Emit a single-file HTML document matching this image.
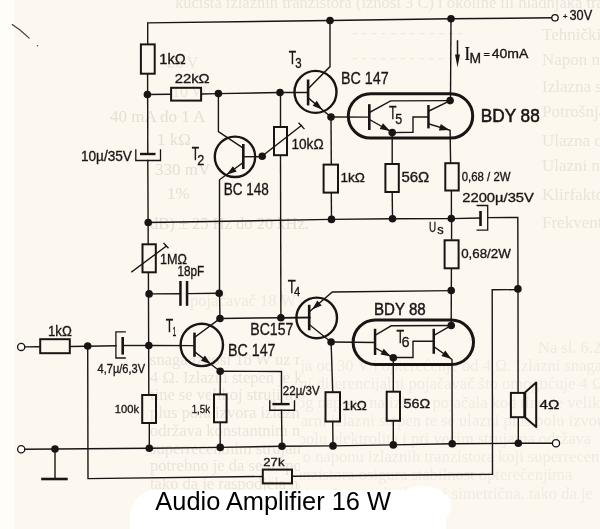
<!DOCTYPE html>
<html><head><meta charset="utf-8"><style>
html,body{margin:0;padding:0;background:#fcf8f0;}
svg{display:block;}
text{opacity:0.999;}svg{will-change:transform;}
</style></head><body>
<svg width="600" height="529" viewBox="0 0 600 529">
<rect width="600" height="529" fill="#fcf8f0"/>
<rect width="14" height="529" fill="#fffdf7"/>
<text x="175" y="8" font-family="Liberation Serif" font-size="16.5" fill="#ebe4d9">kućišta izlaznih tranzistora (iznosi 3 C) i okoline ili hladnjaka tranzistora</text>
<text x="542" y="40" font-family="Liberation Serif" font-size="17" fill="#ebe4d9">Tehnički podaci</text>
<text x="542" y="65" font-family="Liberation Serif" font-size="17" fill="#ebe4d9">Napon napajanja</text>
<text x="542" y="92" font-family="Liberation Serif" font-size="17" fill="#ebe4d9">Izlazna snaga</text>
<text x="542" y="117" font-family="Liberation Serif" font-size="17" fill="#ebe4d9">Potrošnja struje</text>
<text x="542" y="146" font-family="Liberation Serif" font-size="17" fill="#ebe4d9">Ulazna otpornost</text>
<text x="542" y="171" font-family="Liberation Serif" font-size="17" fill="#ebe4d9">Ulazni napon</text>
<text x="542" y="200" font-family="Liberation Serif" font-size="17" fill="#ebe4d9">Klirfaktor (P = 16 W)</text>
<text x="542" y="228" font-family="Liberation Serif" font-size="17" fill="#ebe4d9">Frekventna karakteristika</text>
<text x="352" y="38" font-family="Liberation Serif" font-size="16.5" fill="#efe9df">- - - - - - - - - - - -</text>
<text x="352" y="63" font-family="Liberation Serif" font-size="16.5" fill="#efe9df">- - - - - - - - - - - -</text>
<text x="110" y="122" font-family="Liberation Serif" font-size="17" fill="#e6dfd3">40 mA do 1 A</text>
<text x="167" y="68" font-family="Liberation Serif" font-size="16" fill="#ece6db">26 V</text>
<text x="172" y="97" font-family="Liberation Serif" font-size="16" fill="#ece6db">10 W</text>
<text x="157" y="145" font-family="Liberation Serif" font-size="17" fill="#e6dfd3">1 kΩ</text>
<text x="155" y="175" font-family="Liberation Serif" font-size="17" fill="#e6dfd3">330 mV</text>
<text x="167" y="199" font-family="Liberation Serif" font-size="17" fill="#e6dfd3">1%</text>
<text x="150" y="229" font-family="Liberation Serif" font-size="16.5" fill="#e6dfd3">dB) ± 25 Hz do 20 kHz.</text>
<defs><clipPath id="cl"><rect x="0" y="330" width="300" height="200"/></clipPath><clipPath id="cr"><rect x="300" y="330" width="300" height="200"/></clipPath></defs>
<g clip-path="url(#cl)">
<text x="150" y="365.0" font-family="Liberation Serif" font-size="16.5" fill="#ebe4d9">snaga iznosi 18 W uz napon napajanja od 30 V i opterećenje od 4 Ω. Izlazni snaga iznosi</text>
<text x="150" y="382.7" font-family="Liberation Serif" font-size="16.5" fill="#ebe4d9">4 Ω. Izlazni stepen je komplementarni diferencijalni pojačavač što omogućuje 4 Ω. Izlazni</text>
<text x="150" y="400.4" font-family="Liberation Serif" font-size="16.5" fill="#ebe4d9">tine se velikoj struji mirovanja stalnog napona na izlazu pojačala kod tine se velikoj</text>
<text x="150" y="418.1" font-family="Liberation Serif" font-size="16.5" fill="#ebe4d9">plus polu izvora izlazni komplementarni izlazni stepen te se ulazni plus polu izvora</text>
<text x="150" y="435.8" font-family="Liberation Serif" font-size="16.5" fill="#ebe4d9">održava konstantnim napon na plus polu elektrolita i pri većim strujama održava</text>
<text x="150" y="453.5" font-family="Liberation Serif" font-size="16.5" fill="#ebe4d9">superrecentnim strujama u ovisnosti o naponu izlaznih tranzistora koji superrecentnim</text>
<text x="150" y="471.2" font-family="Liberation Serif" font-size="16.5" fill="#ebe4d9">potrebno je da se u spoju izlaznih tranzistora osigura stabilnost opterećenjima</text>
<text x="150" y="488.9" font-family="Liberation Serif" font-size="16.5" fill="#ebe4d9">tako da je raspodjela napona na tranzistorima podjednaka i simetrična. tako da je</text>
<text x="150" y="506.6" font-family="Liberation Serif" font-size="16.5" fill="#ebe4d9">se to podjednako na oba tranzistora.</text>
</g><g clip-path="url(#cr)">
<text x="60" y="353.0" font-family="Liberation Serif" font-size="16.5" fill="#f1ebe2"></text>
<text x="60" y="371.2" font-family="Liberation Serif" font-size="16.5" fill="#f1ebe2">snaga iznosi 18 W uz napon napajanja od 30 V i opterećenje od 4 Ω. Izlazni snaga iznosi</text>
<text x="60" y="389.4" font-family="Liberation Serif" font-size="16.5" fill="#f1ebe2">4 Ω. Izlazni stepen je komplementarni diferencijalni pojačavač što omogućuje 4 Ω. Izlazni</text>
<text x="60" y="407.6" font-family="Liberation Serif" font-size="16.5" fill="#f1ebe2">tine se velikoj struji mirovanja stalnog napona na izlazu pojačala kod tine se velikoj</text>
<text x="60" y="425.8" font-family="Liberation Serif" font-size="16.5" fill="#f1ebe2">plus polu izvora izlazni komplementarni izlazni stepen te se ulazni plus polu izvora</text>
<text x="60" y="444.0" font-family="Liberation Serif" font-size="16.5" fill="#f1ebe2">održava konstantnim napon na plus polu elektrolita i pri većim strujama održava</text>
<text x="60" y="462.2" font-family="Liberation Serif" font-size="16.5" fill="#f1ebe2">superrecentnim strujama u ovisnosti o naponu izlaznih tranzistora koji superrecentnim</text>
<text x="60" y="480.4" font-family="Liberation Serif" font-size="16.5" fill="#f1ebe2">potrebno je da se u spoju izlaznih tranzistora osigura stabilnost opterećenjima</text>
<text x="60" y="498.6" font-family="Liberation Serif" font-size="16.5" fill="#f1ebe2">tako da je raspodjela napona na tranzistorima podjednaka i simetrična. tako da je</text>
<text x="60" y="516.8" font-family="Liberation Serif" font-size="16.5" fill="#f1ebe2">se to podjednako na oba tranzistora.</text>
</g>
<text x="538" y="353" font-family="Liberation Serif" font-size="16.5" fill="#f0eae0">Na sl. 6.2 prikazano je</text>
<text x="190" y="306" font-family="Liberation Serif" font-size="16.5" fill="#efe9df">pojačavač 18 W</text>
<path d="M12.2,24.5 L20,30 L29.2,38.1" fill="none" stroke="#4a3038" stroke-width="1.1" stroke-linecap="round"/>
<circle cx="37.6" cy="45.7" r="0.7" fill="#4a3a3a"/>
<polyline points="147.7,44.0 147.7,22.9 330.0,20.5 451.0,18.8 551.8,17.8" fill="none" stroke="#1c1414" stroke-width="1.4" stroke-linejoin="miter" stroke-linecap="square"/>
<circle cx="555.0" cy="17.8" r="3.2" fill="#fff" stroke="#1c1414" stroke-width="1.3"/>
<circle cx="330.0" cy="20.5" r="3.8" fill="#1c1414"/>
<circle cx="451.0" cy="18.8" r="3.8" fill="#1c1414"/>
<polyline points="147.6,74.0 147.8,154.0" fill="none" stroke="#1c1414" stroke-width="1.4" stroke-linejoin="miter" stroke-linecap="square"/>
<polyline points="147.8,160.5 148.2,243.4" fill="none" stroke="#1c1414" stroke-width="1.4" stroke-linejoin="miter" stroke-linecap="square"/>
<polyline points="148.4,273.0 148.8,394.4" fill="none" stroke="#1c1414" stroke-width="1.4" stroke-linejoin="miter" stroke-linecap="square"/>
<polyline points="149.3,424.0 149.3,448.3" fill="none" stroke="#1c1414" stroke-width="1.4" stroke-linejoin="miter" stroke-linecap="square"/>
<rect x="140.9" y="44.4" width="13.8" height="29.3" fill="none" stroke="#1c1414" stroke-width="2.0"/>
<rect x="142.5" y="244.3" width="13.3" height="28.0" fill="none" stroke="#1c1414" stroke-width="2.0"/>
<rect x="142.2" y="395.0" width="13.8" height="28.0" fill="none" stroke="#1c1414" stroke-width="2.0"/>
<rect x="140.0" y="152.8" width="15.5" height="2.4" fill="#1c1414"/>
<polyline points="135.8,150.0 135.8,160.5 160.5,160.5 160.5,150.0" fill="none" stroke="#1c1414" stroke-width="1.3" stroke-linejoin="miter" stroke-linecap="square"/>
<polyline points="131.8,271.8 166.2,246.2" fill="none" stroke="#1c1414" stroke-width="1.4" stroke-linejoin="miter" stroke-linecap="square"/>
<polyline points="164.0,243.6 168.0,247.8" fill="none" stroke="#1c1414" stroke-width="1.4" stroke-linejoin="miter" stroke-linecap="square"/>
<circle cx="147.4" cy="94.5" r="3.8" fill="#1c1414"/>
<circle cx="148.2" cy="222.5" r="3.8" fill="#1c1414"/>
<circle cx="149.1" cy="293.9" r="3.8" fill="#1c1414"/>
<circle cx="148.8" cy="345.5" r="3.8" fill="#1c1414"/>
<circle cx="149.3" cy="448.3" r="3.8" fill="#1c1414"/>
<polyline points="147.4,94.5 170.0,94.3" fill="none" stroke="#1c1414" stroke-width="1.4" stroke-linejoin="miter" stroke-linecap="square"/>
<rect x="171.1" y="87.8" width="30.0" height="12.8" fill="none" stroke="#1c1414" stroke-width="2.0"/>
<polyline points="202.1,94.0 218.4,93.6 280.0,92.5 308.0,92.5" fill="none" stroke="#1c1414" stroke-width="1.4" stroke-linejoin="miter" stroke-linecap="square"/>
<circle cx="218.4" cy="93.6" r="3.8" fill="#1c1414"/>
<circle cx="280.0" cy="92.5" r="3.8" fill="#1c1414"/>
<circle cx="235.0" cy="156.8" r="20.2" fill="none" stroke="#1c1414" stroke-width="2.4"/>
<rect x="242.0" y="144.0" width="2.6" height="25.0" fill="#1c1414"/>
<polyline points="218.4,93.6 218.4,131.7 243.0,148.0" fill="none" stroke="#1c1414" stroke-width="1.4" stroke-linejoin="miter" stroke-linecap="square"/>
<polyline points="243.3,156.7 262.2,156.7" fill="none" stroke="#1c1414" stroke-width="1.4" stroke-linejoin="miter" stroke-linecap="square"/>
<circle cx="262.2" cy="156.3" r="3.8" fill="#1c1414"/>
<polyline points="243.3,162.5 219.5,179.8 219.5,293.3 220.0,318.5" fill="none" stroke="#1c1414" stroke-width="1.4" stroke-linejoin="miter" stroke-linecap="square"/>
<polygon points="226.6,174.7 232.9,166.2 236.7,171.6" fill="#1c1414"/>
<circle cx="219.2" cy="293.3" r="3.8" fill="#1c1414"/>
<circle cx="220.0" cy="318.5" r="3.8" fill="#1c1414"/>
<polyline points="280.5,92.5 280.5,126.0" fill="none" stroke="#1c1414" stroke-width="1.4" stroke-linejoin="miter" stroke-linecap="square"/>
<rect x="274.0" y="127.0" width="13.0" height="28.2" fill="none" stroke="#1c1414" stroke-width="2.0"/>
<polyline points="280.5,156.2 280.9,317.7" fill="none" stroke="#1c1414" stroke-width="1.4" stroke-linejoin="miter" stroke-linecap="square"/>
<polyline points="262.2,156.0 301.5,125.5" fill="none" stroke="#1c1414" stroke-width="1.4" stroke-linejoin="miter" stroke-linecap="square"/>
<polyline points="299.0,123.3 304.0,128.6" fill="none" stroke="#1c1414" stroke-width="1.4" stroke-linejoin="miter" stroke-linecap="square"/>
<circle cx="315.5" cy="91.9" r="21.0" fill="none" stroke="#1c1414" stroke-width="2.4"/>
<rect x="306.8" y="79.5" width="2.6" height="25.9" fill="#1c1414"/>
<polyline points="309.4,87.5 330.0,66.6 330.0,20.5" fill="none" stroke="#1c1414" stroke-width="1.4" stroke-linejoin="miter" stroke-linecap="square"/>
<polyline points="309.4,98.8 331.0,117.0" fill="none" stroke="#1c1414" stroke-width="1.4" stroke-linejoin="miter" stroke-linecap="square"/>
<polygon points="322.4,109.7 312.6,105.8 316.8,100.8" fill="#1c1414"/>
<circle cx="331.0" cy="117.0" r="3.8" fill="#1c1414"/>
<polyline points="331.0,117.0 369.0,117.1" fill="none" stroke="#1c1414" stroke-width="1.4" stroke-linejoin="miter" stroke-linecap="square"/>
<polyline points="331.0,117.0 331.3,163.6" fill="none" stroke="#1c1414" stroke-width="1.4" stroke-linejoin="miter" stroke-linecap="square"/>
<rect x="323.6" y="164.6" width="14.4" height="28.0" fill="none" stroke="#1c1414" stroke-width="2.0"/>
<polyline points="331.3,193.6 331.5,219.4" fill="none" stroke="#1c1414" stroke-width="1.4" stroke-linejoin="miter" stroke-linecap="square"/>
<polyline points="148.2,222.5 331.5,219.4 392.5,218.8 451.3,218.6 480.5,218.0" fill="none" stroke="#1c1414" stroke-width="1.4" stroke-linejoin="miter" stroke-linecap="square"/>
<circle cx="331.5" cy="219.4" r="3.8" fill="#1c1414"/>
<circle cx="392.5" cy="218.8" r="3.8" fill="#1c1414"/>
<circle cx="451.3" cy="218.6" r="3.8" fill="#1c1414"/>
<rect x="348.3" y="93.7" width="124.4" height="44.4" rx="22.2" ry="22.2" fill="none" stroke="#1c1414" stroke-width="3.0"/>
<rect x="368.0" y="104.2" width="2.6" height="25.8" fill="#1c1414"/>
<polyline points="370.0,112.2 390.6,100.9 450.1,100.6" fill="none" stroke="#1c1414" stroke-width="1.4" stroke-linejoin="miter" stroke-linecap="square"/>
<polyline points="370.0,119.8 392.3,132.4" fill="none" stroke="#1c1414" stroke-width="1.4" stroke-linejoin="miter" stroke-linecap="square"/>
<polygon points="390.1,131.1 379.7,129.1 383.0,123.3" fill="#1c1414"/>
<circle cx="392.2" cy="132.6" r="3.8" fill="#1c1414"/>
<polyline points="392.2,132.6 413.0,132.3 413.0,117.0 428.4,117.0" fill="none" stroke="#1c1414" stroke-width="1.4" stroke-linejoin="miter" stroke-linecap="square"/>
<rect x="427.2" y="105.0" width="2.5" height="23.4" fill="#1c1414"/>
<polyline points="429.0,111.0 450.1,100.6" fill="none" stroke="#1c1414" stroke-width="1.4" stroke-linejoin="miter" stroke-linecap="square"/>
<circle cx="450.1" cy="100.6" r="3.8" fill="#1c1414"/>
<polyline points="451.0,18.8 450.5,100.6" fill="none" stroke="#1c1414" stroke-width="1.4" stroke-linejoin="miter" stroke-linecap="square"/>
<polyline points="429.0,124.0 450.1,130.3 450.6,162.6" fill="none" stroke="#1c1414" stroke-width="1.4" stroke-linejoin="miter" stroke-linecap="square"/>
<polygon points="449.5,130.1 438.9,130.4 440.8,124.1" fill="#1c1414"/>
<rect x="385.4" y="164.0" width="13.4" height="28.0" fill="none" stroke="#1c1414" stroke-width="2.0"/>
<polyline points="392.2,132.6 392.2,163.4" fill="none" stroke="#1c1414" stroke-width="1.4" stroke-linejoin="miter" stroke-linecap="square"/>
<polyline points="392.2,192.5 392.5,218.7" fill="none" stroke="#1c1414" stroke-width="1.4" stroke-linejoin="miter" stroke-linecap="square"/>
<rect x="445.3" y="163.2" width="13.4" height="27.3" fill="none" stroke="#1c1414" stroke-width="2.0"/>
<polyline points="451.4,191.7 451.4,218.0" fill="none" stroke="#1c1414" stroke-width="1.4" stroke-linejoin="miter" stroke-linecap="square"/>
<rect x="479.2" y="211.0" width="2.6" height="15.0" fill="#1c1414"/>
<polyline points="477.2,205.5 487.7,205.5 487.7,230.2 477.2,230.2" fill="none" stroke="#1c1414" stroke-width="1.3" stroke-linejoin="miter" stroke-linecap="square"/>
<polyline points="487.7,217.6 517.8,217.4 518.0,289.0 518.1,392.5" fill="none" stroke="#1c1414" stroke-width="1.4" stroke-linejoin="miter" stroke-linecap="square"/>
<circle cx="517.9" cy="288.9" r="3.8" fill="#1c1414"/>
<polyline points="517.9,289.6 492.2,289.8 492.5,474.3 293.0,476.3" fill="none" stroke="#1c1414" stroke-width="1.4" stroke-linejoin="miter" stroke-linecap="square"/>
<polyline points="451.6,218.2 451.6,238.9" fill="none" stroke="#1c1414" stroke-width="1.4" stroke-linejoin="miter" stroke-linecap="square"/>
<rect x="444.6" y="240.3" width="14.0" height="28.0" fill="none" stroke="#1c1414" stroke-width="2.0"/>
<polyline points="451.4,269.1 451.2,325.5" fill="none" stroke="#1c1414" stroke-width="1.4" stroke-linejoin="miter" stroke-linecap="square"/>
<circle cx="451.2" cy="290.6" r="3.8" fill="#1c1414"/>
<polyline points="451.2,290.6 332.3,292.0 310.2,311.0" fill="none" stroke="#1c1414" stroke-width="1.4" stroke-linejoin="miter" stroke-linecap="square"/>
<polygon points="312.0,309.5 317.4,300.5 321.7,305.5" fill="#1c1414"/>
<circle cx="316.7" cy="317.9" r="20.3" fill="none" stroke="#1c1414" stroke-width="2.4"/>
<rect x="307.9" y="304.8" width="2.6" height="25.5" fill="#1c1414"/>
<polyline points="280.9,317.7 309.0,317.5" fill="none" stroke="#1c1414" stroke-width="1.4" stroke-linejoin="miter" stroke-linecap="square"/>
<circle cx="280.9" cy="317.7" r="3.8" fill="#1c1414"/>
<polyline points="309.5,324.7 331.1,342.0" fill="none" stroke="#1c1414" stroke-width="1.4" stroke-linejoin="miter" stroke-linecap="square"/>
<circle cx="331.1" cy="342.0" r="3.8" fill="#1c1414"/>
<polyline points="331.1,342.0 375.0,342.5" fill="none" stroke="#1c1414" stroke-width="1.4" stroke-linejoin="miter" stroke-linecap="square"/>
<polyline points="331.1,342.0 332.7,391.2" fill="none" stroke="#1c1414" stroke-width="1.4" stroke-linejoin="miter" stroke-linecap="square"/>
<rect x="325.5" y="392.2" width="14.5" height="29.3" fill="none" stroke="#1c1414" stroke-width="2.0"/>
<polyline points="332.7,422.5 333.0,445.9" fill="none" stroke="#1c1414" stroke-width="1.4" stroke-linejoin="miter" stroke-linecap="square"/>
<rect x="353.1" y="320.1" width="120.4" height="44.4" rx="22.2" ry="22.2" fill="none" stroke="#1c1414" stroke-width="3.0"/>
<rect x="373.8" y="328.8" width="2.5" height="26.2" fill="#1c1414"/>
<polyline points="375.5,335.0 391.2,325.8 451.2,325.5" fill="none" stroke="#1c1414" stroke-width="1.4" stroke-linejoin="miter" stroke-linecap="square"/>
<polyline points="375.5,348.0 393.0,357.5" fill="none" stroke="#1c1414" stroke-width="1.4" stroke-linejoin="miter" stroke-linecap="square"/>
<polygon points="390.9,356.4 380.5,354.5 383.7,348.7" fill="#1c1414"/>
<circle cx="393.3" cy="357.7" r="3.8" fill="#1c1414"/>
<polyline points="393.0,357.5 413.0,357.5 413.0,341.2 433.8,341.2" fill="none" stroke="#1c1414" stroke-width="1.4" stroke-linejoin="miter" stroke-linecap="square"/>
<rect x="432.5" y="328.8" width="2.5" height="25.0" fill="#1c1414"/>
<polyline points="434.5,335.0 451.2,325.5" fill="none" stroke="#1c1414" stroke-width="1.4" stroke-linejoin="miter" stroke-linecap="square"/>
<circle cx="451.2" cy="325.5" r="3.8" fill="#1c1414"/>
<polyline points="434.5,347.0 452.0,359.5 452.2,443.7" fill="none" stroke="#1c1414" stroke-width="1.4" stroke-linejoin="miter" stroke-linecap="square"/>
<polygon points="451.5,359.1 441.4,356.0 445.3,350.6" fill="#1c1414"/>
<polyline points="393.3,357.7 393.3,391.0" fill="none" stroke="#1c1414" stroke-width="1.4" stroke-linejoin="miter" stroke-linecap="square"/>
<rect x="386.7" y="391.7" width="13.3" height="29.1" fill="none" stroke="#1c1414" stroke-width="2.0"/>
<polyline points="393.3,421.8 393.3,444.9" fill="none" stroke="#1c1414" stroke-width="1.4" stroke-linejoin="miter" stroke-linecap="square"/>
<circle cx="201.8" cy="344.9" r="21.2" fill="none" stroke="#1c1414" stroke-width="2.4"/>
<rect x="193.2" y="332.6" width="2.6" height="24.2" fill="#1c1414"/>
<polyline points="148.8,345.5 194.0,345.6" fill="none" stroke="#1c1414" stroke-width="1.4" stroke-linejoin="miter" stroke-linecap="square"/>
<polyline points="195.0,337.0 220.0,318.5" fill="none" stroke="#1c1414" stroke-width="1.4" stroke-linejoin="miter" stroke-linecap="square"/>
<polyline points="220.0,318.5 280.9,317.7 310.0,317.5" fill="none" stroke="#1c1414" stroke-width="1.4" stroke-linejoin="miter" stroke-linecap="square"/>
<polyline points="195.0,352.0 220.2,371.3" fill="none" stroke="#1c1414" stroke-width="1.4" stroke-linejoin="miter" stroke-linecap="square"/>
<polygon points="210.9,364.2 200.9,360.7 204.9,355.5" fill="#1c1414"/>
<circle cx="220.2" cy="371.3" r="3.8" fill="#1c1414"/>
<polyline points="220.2,371.3 281.5,371.5 281.5,403.0" fill="none" stroke="#1c1414" stroke-width="1.4" stroke-linejoin="miter" stroke-linecap="square"/>
<polyline points="220.2,371.3 220.2,393.3" fill="none" stroke="#1c1414" stroke-width="1.4" stroke-linejoin="miter" stroke-linecap="square"/>
<rect x="214.0" y="394.4" width="12.6" height="27.9" fill="none" stroke="#1c1414" stroke-width="2.0"/>
<polyline points="220.2,423.3 220.2,447.4" fill="none" stroke="#1c1414" stroke-width="1.4" stroke-linejoin="miter" stroke-linecap="square"/>
<rect x="272.4" y="402.9" width="17.2" height="2.4" fill="#1c1414"/>
<polyline points="269.8,400.9 269.8,410.3 294.5,410.3 294.5,400.9" fill="none" stroke="#1c1414" stroke-width="1.4" stroke-linejoin="miter" stroke-linecap="square"/>
<polyline points="281.5,410.3 282.0,446.3" fill="none" stroke="#1c1414" stroke-width="1.4" stroke-linejoin="miter" stroke-linecap="square"/>
<polyline points="149.1,293.9 179.6,293.8" fill="none" stroke="#1c1414" stroke-width="1.4" stroke-linejoin="miter" stroke-linecap="square"/>
<rect x="179.2" y="281.0" width="2.5" height="24.8" fill="#1c1414"/>
<rect x="185.8" y="281.0" width="2.5" height="24.8" fill="#1c1414"/>
<polyline points="188.3,293.6 219.2,293.3" fill="none" stroke="#1c1414" stroke-width="1.4" stroke-linejoin="miter" stroke-linecap="square"/>
<circle cx="21.2" cy="346.9" r="3.6" fill="#fff" stroke="#1c1414" stroke-width="1.3"/>
<polyline points="24.9,346.9 39.2,346.7" fill="none" stroke="#1c1414" stroke-width="1.4" stroke-linejoin="miter" stroke-linecap="square"/>
<rect x="40.2" y="339.2" width="29.6" height="14.0" fill="none" stroke="#1c1414" stroke-width="2.0"/>
<polyline points="70.8,346.5 115.9,345.8" fill="none" stroke="#1c1414" stroke-width="1.4" stroke-linejoin="miter" stroke-linecap="square"/>
<circle cx="87.7" cy="346.0" r="3.8" fill="#1c1414"/>
<polyline points="125.2,331.9 115.9,331.9 115.9,358.0 125.2,358.0" fill="none" stroke="#1c1414" stroke-width="1.3" stroke-linejoin="miter" stroke-linecap="square"/>
<rect x="121.4" y="337.0" width="2.6" height="17.6" fill="#1c1414"/>
<polyline points="124.0,345.5 148.8,345.5" fill="none" stroke="#1c1414" stroke-width="1.4" stroke-linejoin="miter" stroke-linecap="square"/>
<polyline points="87.7,346.0 88.0,478.6 261.8,476.5" fill="none" stroke="#1c1414" stroke-width="1.4" stroke-linejoin="miter" stroke-linecap="square"/>
<rect x="262.8" y="469.6" width="29.2" height="13.8" fill="none" stroke="#1c1414" stroke-width="2.0"/>
<circle cx="21.2" cy="449.2" r="3.6" fill="#fff" stroke="#1c1414" stroke-width="1.3"/>
<polyline points="24.9,449.2 149.3,448.3 220.2,447.4 282.0,446.3 333.0,445.9 393.3,444.9 452.2,443.7 518.3,443.3 552.3,443.3" fill="none" stroke="#1c1414" stroke-width="1.4" stroke-linejoin="miter" stroke-linecap="square"/>
<circle cx="556.0" cy="443.3" r="3.6" fill="#fff" stroke="#1c1414" stroke-width="1.3"/>
<circle cx="55.0" cy="449.0" r="3.8" fill="#1c1414"/>
<circle cx="220.2" cy="447.4" r="3.8" fill="#1c1414"/>
<circle cx="282.0" cy="446.3" r="3.8" fill="#1c1414"/>
<circle cx="333.0" cy="445.9" r="3.8" fill="#1c1414"/>
<circle cx="393.3" cy="444.9" r="3.8" fill="#1c1414"/>
<circle cx="452.2" cy="443.7" r="3.8" fill="#1c1414"/>
<circle cx="518.3" cy="443.3" r="3.8" fill="#1c1414"/>
<polyline points="55.0,449.0 55.0,478.0" fill="none" stroke="#1c1414" stroke-width="1.4" stroke-linejoin="miter" stroke-linecap="square"/>
<rect x="41.2" y="477.7" width="26.5" height="2.6" fill="#1c1414"/>
<rect x="510.9" y="392.9" width="13.4" height="24.3" fill="none" stroke="#1c1414" stroke-width="2.0"/>
<polygon points="525.2,392.2 536.2,382.6 536.2,427.0 525.2,417.6" fill="none" stroke="#1c1414" stroke-width="2.0" stroke-linejoin="round"/>
<polyline points="518.3,418.2 518.3,443.3" fill="none" stroke="#1c1414" stroke-width="1.4" stroke-linejoin="miter" stroke-linecap="square"/>
<polyline points="457.5,41.0 457.5,56.0" fill="none" stroke="#1c1414" stroke-width="1.5" stroke-linejoin="miter" stroke-linecap="square"/>
<polygon points="455.0,54.5 460.0,54.5 457.5,67.2" fill="#1c1414"/>
<text x="159.38" y="63.50" font-family="Liberation Sans" font-size="13.80" font-weight="normal" fill="#1c1414" stroke="#1c1414" stroke-width="0.33" textLength="26.45" lengthAdjust="spacingAndGlyphs">1kΩ</text>
<text x="174.76" y="83.20" font-family="Liberation Sans" font-size="13.39" font-weight="normal" fill="#1c1414" stroke="#1c1414" stroke-width="0.33" textLength="34.88" lengthAdjust="spacingAndGlyphs">22kΩ</text>
<text x="80.96" y="160.90" font-family="Liberation Sans" font-size="13.94" font-weight="normal" fill="#1c1414" stroke="#1c1414" stroke-width="0.33" textLength="51.00" lengthAdjust="spacingAndGlyphs">10µ/35V</text>
<text x="191.83" y="160.10" font-family="Liberation Sans" font-size="17.73" font-weight="normal" fill="#1c1414" stroke="#1c1414" stroke-width="0.33" textLength="7.35" lengthAdjust="spacingAndGlyphs">T</text>
<text x="197.26" y="164.70" font-family="Liberation Sans" font-size="15.04" font-weight="normal" fill="#1c1414" stroke="#1c1414" stroke-width="0.33" textLength="7.08" lengthAdjust="spacingAndGlyphs">2</text>
<text x="223.69" y="195.40" font-family="Liberation Sans" font-size="17.04" font-weight="normal" fill="#1c1414" stroke="#1c1414" stroke-width="0.33" textLength="45.10" lengthAdjust="spacingAndGlyphs">BC 148</text>
<text x="288.63" y="64.20" font-family="Liberation Sans" font-size="17.88" font-weight="normal" fill="#1c1414" stroke="#1c1414" stroke-width="0.33" textLength="7.45" lengthAdjust="spacingAndGlyphs">T</text>
<text x="295.37" y="68.20" font-family="Liberation Sans" font-size="13.89" font-weight="normal" fill="#1c1414" stroke="#1c1414" stroke-width="0.33" textLength="6.33" lengthAdjust="spacingAndGlyphs">3</text>
<text x="341.03" y="84.30" font-family="Liberation Sans" font-size="17.19" font-weight="normal" fill="#1c1414" stroke="#1c1414" stroke-width="0.33" textLength="47.69" lengthAdjust="spacingAndGlyphs">BC 147</text>
<text x="291.46" y="149.00" font-family="Liberation Sans" font-size="13.80" font-weight="normal" fill="#1c1414" stroke="#1c1414" stroke-width="0.33" textLength="32.12" lengthAdjust="spacingAndGlyphs">10kΩ</text>
<text x="340.57" y="182.00" font-family="Liberation Sans" font-size="13.52" font-weight="normal" fill="#1c1414" stroke="#1c1414" stroke-width="0.33" textLength="24.41" lengthAdjust="spacingAndGlyphs">1kΩ</text>
<text x="401.40" y="181.60" font-family="Liberation Sans" font-size="13.75" font-weight="normal" fill="#1c1414" stroke="#1c1414" stroke-width="0.33" textLength="27.84" lengthAdjust="spacingAndGlyphs">56Ω</text>
<text x="461.75" y="180.50" font-family="Liberation Sans" font-size="12.14" font-weight="normal" fill="#1c1414" stroke="#1c1414" stroke-width="0.33" textLength="48.78" lengthAdjust="spacingAndGlyphs">0,68 / 2W</text>
<text x="462.26" y="201.90" font-family="Liberation Sans" font-size="12.70" font-weight="normal" fill="#1c1414" stroke="#1c1414" stroke-width="0.33" textLength="71.61" lengthAdjust="spacingAndGlyphs">2200µ/35V</text>
<text x="428.94" y="231.70" font-family="Liberation Sans" font-size="14.10" font-weight="normal" fill="#1c1414" stroke="#1c1414" stroke-width="0.33" textLength="7.12" lengthAdjust="spacingAndGlyphs">U</text>
<text x="437.34" y="234.30" font-family="Liberation Sans" font-size="12.30" font-weight="normal" fill="#1c1414" stroke="#1c1414" stroke-width="0.33" textLength="6.42" lengthAdjust="spacingAndGlyphs">s</text>
<text x="461.18" y="258.40" font-family="Liberation Sans" font-size="13.39" font-weight="normal" fill="#1c1414" stroke="#1c1414" stroke-width="0.33" textLength="49.57" lengthAdjust="spacingAndGlyphs">0,68/2W</text>
<text x="389.02" y="119.00" font-family="Liberation Sans" font-size="18.17" font-weight="normal" fill="#1c1414" stroke="#1c1414" stroke-width="0.33" textLength="7.56" lengthAdjust="spacingAndGlyphs">T</text>
<text x="395.30" y="124.20" font-family="Liberation Sans" font-size="14.83" font-weight="normal" fill="#1c1414" stroke="#1c1414" stroke-width="0.33" textLength="6.92" lengthAdjust="spacingAndGlyphs">5</text>
<text x="480.80" y="121.80" font-family="Liberation Sans" font-size="18.90" font-weight="normal" fill="#1c1414" stroke="#1c1414" stroke-width="0.55" textLength="58.95" lengthAdjust="spacingAndGlyphs">BDY 88</text>
<text x="464.76" y="59.50" font-family="Liberation Serif" font-size="19.09" font-weight="bold" fill="#1c1414" textLength="5.08" lengthAdjust="spacingAndGlyphs">I</text>
<text x="469.56" y="62.70" font-family="Liberation Sans" font-size="14.10" font-weight="normal" fill="#1c1414" stroke="#1c1414" stroke-width="0.33" textLength="11.58" lengthAdjust="spacingAndGlyphs">M</text>
<text x="483.47" y="57.00" font-family="Liberation Sans" font-size="7.55" font-weight="normal" fill="#1c1414" stroke="#1c1414" stroke-width="0.33" textLength="6.37" lengthAdjust="spacingAndGlyphs">=</text>
<text x="491.68" y="57.50" font-family="Liberation Sans" font-size="12.89" font-weight="normal" fill="#1c1414" stroke="#1c1414" stroke-width="0.33" textLength="36.65" lengthAdjust="spacingAndGlyphs">40mA</text>
<text x="562.93" y="19.30" font-family="Liberation Sans" font-size="7.28" font-weight="normal" fill="#1c1414" stroke="#1c1414" stroke-width="0.33" textLength="4.45" lengthAdjust="spacingAndGlyphs">+</text>
<text x="569.52" y="20.40" font-family="Liberation Sans" font-size="14.46" font-weight="normal" fill="#1c1414" stroke="#1c1414" stroke-width="0.33" textLength="22.64" lengthAdjust="spacingAndGlyphs">30V</text>
<text x="160.04" y="264.30" font-family="Liberation Sans" font-size="14.04" font-weight="normal" fill="#1c1414" stroke="#1c1414" stroke-width="0.33" textLength="27.01" lengthAdjust="spacingAndGlyphs">1MΩ</text>
<text x="177.40" y="276.30" font-family="Liberation Sans" font-size="14.04" font-weight="normal" fill="#1c1414" stroke="#1c1414" stroke-width="0.33" textLength="26.82" lengthAdjust="spacingAndGlyphs">18pF</text>
<text x="287.81" y="292.90" font-family="Liberation Sans" font-size="18.60" font-weight="normal" fill="#1c1414" stroke="#1c1414" stroke-width="0.33" textLength="7.99" lengthAdjust="spacingAndGlyphs">T</text>
<text x="293.94" y="295.90" font-family="Liberation Sans" font-size="13.66" font-weight="normal" fill="#1c1414" stroke="#1c1414" stroke-width="0.33" textLength="6.18" lengthAdjust="spacingAndGlyphs">4</text>
<text x="250.24" y="335.40" font-family="Liberation Sans" font-size="17.04" font-weight="normal" fill="#1c1414" stroke="#1c1414" stroke-width="0.33" textLength="43.17" lengthAdjust="spacingAndGlyphs">BC157</text>
<text x="165.83" y="332.10" font-family="Liberation Sans" font-size="18.90" font-weight="normal" fill="#1c1414" stroke="#1c1414" stroke-width="0.33" textLength="7.45" lengthAdjust="spacingAndGlyphs">T</text>
<text x="172.49" y="336.10" font-family="Liberation Sans" font-size="13.52" font-weight="normal" fill="#1c1414" stroke="#1c1414" stroke-width="0.33" textLength="3.74" lengthAdjust="spacingAndGlyphs">1</text>
<text x="228.03" y="356.10" font-family="Liberation Sans" font-size="17.19" font-weight="normal" fill="#1c1414" stroke="#1c1414" stroke-width="0.33" textLength="47.48" lengthAdjust="spacingAndGlyphs">BC 147</text>
<text x="373.97" y="314.50" font-family="Liberation Sans" font-size="16.47" font-weight="normal" fill="#1c1414" stroke="#1c1414" stroke-width="0.45" textLength="51.68" lengthAdjust="spacingAndGlyphs">BDY 88</text>
<text x="396.62" y="342.90" font-family="Liberation Sans" font-size="17.44" font-weight="normal" fill="#1c1414" stroke="#1c1414" stroke-width="0.33" textLength="7.67" lengthAdjust="spacingAndGlyphs">T</text>
<text x="401.46" y="347.00" font-family="Liberation Sans" font-size="15.04" font-weight="normal" fill="#1c1414" stroke="#1c1414" stroke-width="0.33" textLength="8.08" lengthAdjust="spacingAndGlyphs">6</text>
<text x="342.47" y="410.00" font-family="Liberation Sans" font-size="12.42" font-weight="normal" fill="#1c1414" stroke="#1c1414" stroke-width="0.33" textLength="24.31" lengthAdjust="spacingAndGlyphs">1kΩ</text>
<text x="403.43" y="408.30" font-family="Liberation Sans" font-size="12.89" font-weight="normal" fill="#1c1414" stroke="#1c1414" stroke-width="0.33" textLength="26.69" lengthAdjust="spacingAndGlyphs">56Ω</text>
<text x="539.45" y="408.60" font-family="Liberation Sans" font-size="13.03" font-weight="normal" fill="#1c1414" stroke="#1c1414" stroke-width="0.33" textLength="19.80" lengthAdjust="spacingAndGlyphs">4Ω</text>
<text x="282.82" y="394.70" font-family="Liberation Sans" font-size="12.97" font-weight="normal" fill="#1c1414" stroke="#1c1414" stroke-width="0.33" textLength="36.93" lengthAdjust="spacingAndGlyphs">22µ/3V</text>
<text x="191.66" y="413.00" font-family="Liberation Sans" font-size="11.59" font-weight="normal" fill="#1c1414" stroke="#1c1414" stroke-width="0.33" textLength="18.32" lengthAdjust="spacingAndGlyphs">1,5k</text>
<text x="114.75" y="413.40" font-family="Liberation Sans" font-size="11.59" font-weight="normal" fill="#1c1414" stroke="#1c1414" stroke-width="0.33" textLength="24.23" lengthAdjust="spacingAndGlyphs">100k</text>
<text x="47.99" y="336.00" font-family="Liberation Sans" font-size="13.80" font-weight="normal" fill="#1c1414" stroke="#1c1414" stroke-width="0.33" textLength="23.88" lengthAdjust="spacingAndGlyphs">1kΩ</text>
<text x="97.55" y="372.80" font-family="Liberation Sans" font-size="12.56" font-weight="normal" fill="#1c1414" stroke="#1c1414" stroke-width="0.33" textLength="47.50" lengthAdjust="spacingAndGlyphs">4,7µ/6,3V</text>
<text x="263.34" y="466.20" font-family="Liberation Sans" font-size="10.63" font-weight="normal" fill="#1c1414" stroke="#1c1414" stroke-width="0.33" textLength="21.14" lengthAdjust="spacingAndGlyphs">27k</text>
<rect x="130" y="490" width="316" height="70" rx="26" ry="26" fill="#ffffff"/>
<ellipse cx="423" cy="506" rx="28" ry="20" fill="#ffffff"/>
<text x="155.35" y="509.70" font-family="Liberation Sans" font-size="24.98" font-weight="normal" fill="#000" textLength="235.54" lengthAdjust="spacingAndGlyphs">Audio Amplifier 16 W</text>
</svg>
</body></html>
